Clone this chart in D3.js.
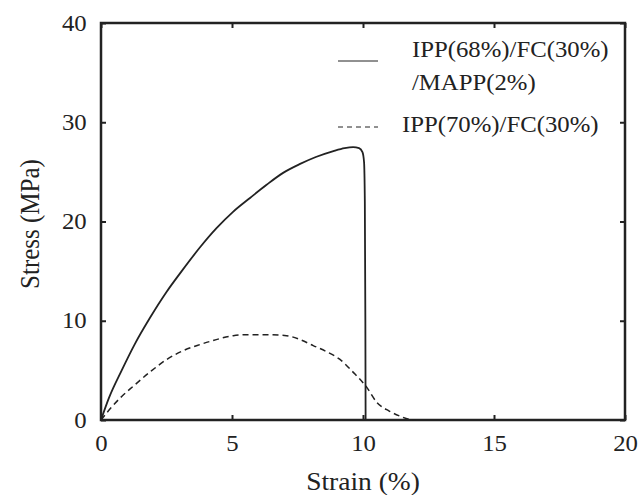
<!DOCTYPE html>
<html>
<head>
<meta charset="utf-8">
<script src="https://cdn.jsdelivr.net/npm/d3@7"></script>
<style>
  html, body { margin: 0; padding: 0; background: #fff; }
</style>
</head>
<body>
<svg id="chart" width="640" height="495"></svg>
<script>
// ---- Data ----
const xTicks = [0, 5, 10, 15, 20];
const yTicks = [0, 10, 20, 30, 40];
const seriesNames = ["IPP(68%)/FC(30%)", "/MAPP(2%)", "IPP(70%)/FC(30%)"];

const mappStrain = [0, 0.3, 0.79, 1.3, 1.87, 2.5, 3.08, 3.78, 4.4, 5.05, 5.7, 6.32, 6.95, 7.6, 8.2, 8.87, 9.3, 9.62, 9.85, 9.98, 10.04, 10.07, 10.09, 10.1];
const mappStress = [0, 2.2, 5.0, 7.7, 10.3, 12.9, 15.0, 17.4, 19.3, 21.0, 22.4, 23.7, 24.9, 25.8, 26.5, 27.1, 27.4, 27.5, 27.4, 27.0, 26.0, 22, 10, 0];

const plainStrain = [0, 0.34, 0.8, 1.23, 1.9, 2.51, 3.15, 3.78, 4.4, 5.05, 5.7, 6.32, 7.08, 7.6, 8.1, 8.6, 9.12, 9.63, 10.14, 10.52, 11.0, 11.4, 11.8, 12.0];
const plainStress = [0, 1.1, 2.4, 3.4, 4.9, 6.1, 7.0, 7.6, 8.1, 8.5, 8.6, 8.6, 8.5, 8.1, 7.5, 6.9, 6.1, 4.8, 3.3, 1.8, 0.9, 0.4, 0.05, 0];

// ---- Layout ----
const svg = d3.select("#chart");
const L = 101, R = 625, T = 23, B = 420;
const x = d3.scaleLinear().domain([0, 20]).range([L, R]);
const y = d3.scaleLinear().domain([0, 40]).range([B, T]);
const ink = "#222";
const FONT = "Liberation Serif";
const SX = 1.1; // reference text is slightly wide
const setFont = sel => sel.style("font-family", FONT, "important");

// axes (tick marks inward)
const gx = svg.append("g").attr("transform", `translate(0,${B})`)
  .call(d3.axisBottom(x).tickValues(xTicks).tickSize(-5).tickPadding(14).tickFormat(d3.format("d")));
const gy = svg.append("g").attr("transform", `translate(${L},0)`)
  .call(d3.axisLeft(y).tickValues(yTicks).tickSize(-5).tickPadding(13).tickFormat(d3.format("d")));
const gx2 = svg.append("g").attr("transform", `translate(0,${T})`)
  .call(d3.axisTop(x).tickValues(xTicks).tickSize(-5).tickFormat(""));
const gy2 = svg.append("g").attr("transform", `translate(${R},0)`)
  .call(d3.axisRight(y).tickValues(yTicks).tickSize(-5).tickFormat(""));
[gx, gy, gx2, gy2].forEach(g => {
  g.attr("font-family", FONT);
  setFont(g);
  g.select(".domain").remove();
  g.selectAll(".tick line").attr("stroke", ink).attr("stroke-width", 2);
  setFont(g.selectAll(".tick text").attr("font-size", 22.5).attr("fill", ink)
    .attr("transform", `scale(${SX},1)`));
});
gx.selectAll(".tick text").attr("dy", "0.75em");

// frame
svg.append("rect").attr("x", L).attr("y", T).attr("width", R - L).attr("height", B - T)
  .attr("fill", "none").attr("stroke", ink).attr("stroke-width", 2.5);

// lines
const mapp = mappStrain.map((s, i) => [s, mappStress[i]]);
const plain = plainStrain.map((s, i) => [s, plainStress[i]]);
const line = d3.line().x(d => x(d[0])).y(d => y(d[1])).curve(d3.curveMonotoneX);

svg.append("path").datum(mapp).attr("d", line)
  .attr("fill", "none").attr("stroke", ink).attr("stroke-width", 1.8);
svg.append("path").datum(plain).attr("d", line)
  .attr("fill", "none").attr("stroke", ink).attr("stroke-width", 1.5)
  .attr("stroke-dasharray", "6,4");

// legend
svg.append("line").attr("x1", 338).attr("x2", 378).attr("y1", 61).attr("y2", 61)
  .attr("stroke", ink).attr("stroke-width", 1);
svg.append("line").attr("x1", 338).attr("x2", 378).attr("y1", 127).attr("y2", 127)
  .attr("stroke", ink).attr("stroke-width", 1).attr("stroke-dasharray", "5,4");
const label = (tx, ty, s, size, extra = "") => setFont(svg.append("text")
  .attr("transform", `translate(${tx},${ty}) scale(${SX},1) ${extra}`)
  .attr("font-size", size).attr("fill", ink).text(s));
label(412, 57, seriesNames[0], 22.5);
label(412, 90, seriesNames[1], 22.5);
label(402, 132, seriesNames[2], 22.5);

// axis titles
label((L + R) / 2, 490, "Strain (%)", 25).attr("text-anchor", "middle");
label(39, 224, "Stress (MPa)", 25, "rotate(-90)").attr("text-anchor", "middle");
</script>
</body>
</html>
